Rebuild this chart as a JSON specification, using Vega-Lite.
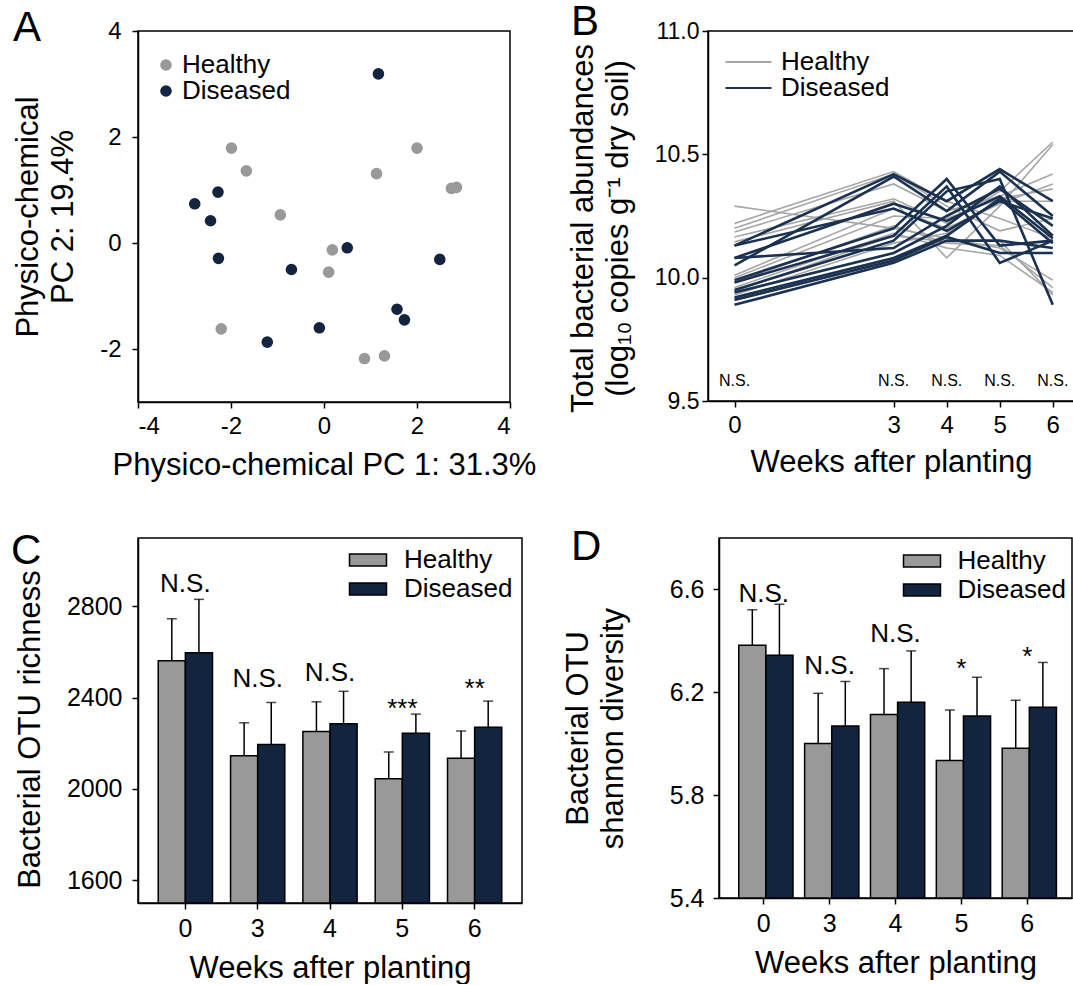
{
  "$schema": "https://vega.github.io/schema/vega-lite/v6.json",
  "padding": {"left": 10, "top": 0, "right": 0, "bottom": 0},
  "background": "white",
  "config": {
    "font": "Liberation Sans",
    "view": {"stroke": "black", "strokeWidth": 1.5},
    "axis": {"grid": false, "domainColor": "black", "domainWidth": 1.5, "tickColor": "black", "tickWidth": 1.5, "tickSize": 6, "labelColor": "black", "titleColor": "black", "labelFont": "Liberation Sans", "titleFont": "Liberation Sans", "labelFontSize": 24, "titleFontSize": 31, "titleFontWeight": "normal", "labelPadding": 6},
    "legend": {"labelFont": "Liberation Sans", "labelFontSize": 26, "labelColor": "black", "title": null, "orient": "none", "padding": 0},
    "title": {"anchor": "start", "frame": "group", "font": "Liberation Sans", "fontSize": 42, "fontWeight": "normal", "color": "black", "baseline": "alphabetic", "offset": 0}
  },
  "resolve": {"scale": {"color": "independent"}, "legend": {"color": "independent"}},
  "spacing": 44,
  "vconcat": [
    {
      "bounds": "flush",
      "spacing": 198,
      "resolve": {"scale": {"color": "independent"}, "legend": {"color": "independent"}},
      "hconcat": [
        {
          "width": 372, "height": 371,
          "title": {"text": "A", "dx": -125, "dy": 35},
          "data": {"values": [
            {"group": "Healthy", "pc1": -1.99, "pc2": 1.79},
            {"group": "Healthy", "pc1": -1.67, "pc2": 1.36},
            {"group": "Healthy", "pc1": 1.13, "pc2": 1.31},
            {"group": "Healthy", "pc1": 2.0, "pc2": 1.79},
            {"group": "Healthy", "pc1": 2.74, "pc2": 1.03},
            {"group": "Healthy", "pc1": 2.85, "pc2": 1.05},
            {"group": "Healthy", "pc1": -0.94, "pc2": 0.53},
            {"group": "Healthy", "pc1": 0.18, "pc2": -0.13},
            {"group": "Healthy", "pc1": 0.10, "pc2": -0.55},
            {"group": "Healthy", "pc1": -2.21, "pc2": -1.62},
            {"group": "Healthy", "pc1": 0.87, "pc2": -2.18},
            {"group": "Healthy", "pc1": 1.30, "pc2": -2.13},
            {"group": "Diseased", "pc1": 1.17, "pc2": 3.19},
            {"group": "Diseased", "pc1": -2.28, "pc2": 0.96},
            {"group": "Diseased", "pc1": -2.78, "pc2": 0.74},
            {"group": "Diseased", "pc1": -2.44, "pc2": 0.42},
            {"group": "Diseased", "pc1": -2.27, "pc2": -0.29},
            {"group": "Diseased", "pc1": -0.70, "pc2": -0.50},
            {"group": "Diseased", "pc1": 0.50, "pc2": -0.09},
            {"group": "Diseased", "pc1": 2.49, "pc2": -0.31},
            {"group": "Diseased", "pc1": 1.57, "pc2": -1.25},
            {"group": "Diseased", "pc1": 1.73, "pc2": -1.45},
            {"group": "Diseased", "pc1": -0.10, "pc2": -1.60},
            {"group": "Diseased", "pc1": -1.22, "pc2": -1.87}
          ]},
          "mark": {"type": "circle", "size": 135, "opacity": 1},
          "encoding": {
            "x": {"field": "pc1", "type": "quantitative", "scale": {"domain": [-4, 4], "nice": false, "zero": false}, "axis": {"values": [-4, -2, 0, 2, 4], "labelExpr": "datum.value < 0 ? '-' + abs(datum.value) : '' + datum.value", "title": "Physico-chemical PC 1: 31.3%", "titlePadding": 12}},
            "y": {"field": "pc2", "type": "quantitative", "scale": {"domain": [-3, 4], "nice": false, "zero": false}, "axis": {"values": [-2, 0, 2, 4], "labelExpr": "datum.value < 0 ? '-' + abs(datum.value) : '' + datum.value", "labelPadding": 11, "title": ["Physico-chemical", "PC 2: 19.4%"], "titleLineHeight": 35, "titlePadding": 20}},
            "color": {"field": "group", "type": "nominal", "scale": {"domain": ["Healthy", "Diseased"], "range": ["#999999", "#12243f"]},
              "legend": {"legendX": 15, "legendY": 21, "symbolType": "circle", "symbolSize": 135, "symbolOpacity": 1, "rowPadding": 0, "labelOffset": 3}}
          }
        },
        {
          "width": 366, "height": 370,
          "title": {"text": "B", "dx": -137, "dy": 28},
          "layer": [
            {
              "data": {"name": "lines"},
              "transform": [{"filter": "datum.g === 'Healthy'"}],
              "mark": {"type": "line", "strokeWidth": 1.6},
              "encoding": {
                "x": {"field": "w", "type": "quantitative", "scale": {"domain": [-0.5, 6.4], "nice": false, "zero": false}, "axis": {"values": [0, 3, 4, 5, 6], "format": "d", "title": "Weeks after planting", "titlePadding": 10}},
                "y": {"field": "v", "type": "quantitative", "scale": {"domain": [9.5, 11.0], "nice": false, "zero": false}, "axis": {"values": [9.5, 10.0, 10.5, 11.0], "format": ".1f", "labelFontSize": 23, "labelPadding": 3, "title": ["Total bacterial abundances", "(log₁₀ copies g⁻¹ dry soil)"], "titleLineHeight": 35, "titlePadding": 20, "titleY": 197}},
                "color": {"field": "g", "type": "nominal", "scale": {"domain": ["Healthy", "Diseased"], "range": ["#a6a6a6", "#1b3150"]},
                  "legend": {"legendX": 27.5, "legendY": 18, "symbolType": "M-2,0H2", "symbolSize": 529, "symbolStrokeWidth": 2, "rowPadding": 0, "labelOffset": 19.5}},
                "detail": {"field": "id"}
              }
            },
            {
              "data": {"name": "lines"},
              "transform": [{"filter": "datum.g === 'Diseased'"}],
              "mark": {"type": "line", "strokeWidth": 2.6},
              "encoding": {
                "x": {"field": "w", "type": "quantitative"},
                "y": {"field": "v", "type": "quantitative"},
                "color": {"field": "g", "type": "nominal"},
                "detail": {"field": "id"}
              }
            },
            {
              "data": {"values": [{"w": 0, "label": "N.S."}, {"w": 3, "label": "N.S."}, {"w": 4, "label": "N.S."}, {"w": 5, "label": "N.S."}, {"w": 6, "label": "N.S."}]},
              "mark": {"type": "text", "fontSize": 16, "baseline": "alphabetic", "align": "center", "color": "black"},
              "encoding": {
                "x": {"field": "w", "type": "quantitative"},
                "y": {"datum": 9.56},
                "text": {"field": "label"}
              }
            }
          ]
        }
      ]
    },
    {
      "bounds": "flush",
      "spacing": 197,
      "resolve": {"scale": {"color": "independent"}, "legend": {"color": "independent"}},
      "hconcat": [
        {
          "width": 384, "height": 365,
          "title": {"text": "C", "dx": -127, "dy": 39},
          "layer": [
            {
              "data": {"name": "richness"},
              "mark": {"type": "bar", "stroke": "black", "strokeWidth": 1.5},
              "encoding": {
                "x": {"field": "week", "type": "ordinal", "sort": ["0", "3", "4", "5", "6"], "scale": {"paddingInner": 0.25, "paddingOuter": 0.28}, "axis": {"labelAngle": 0, "title": "Weeks after planting", "titlePadding": 12, "labelPadding": 7, "labelFontSize": 25}},
                "xOffset": {"field": "group", "type": "nominal", "sort": ["Healthy", "Diseased"], "scale": {"paddingInner": 0, "paddingOuter": 0}},
                "y": {"field": "mean", "type": "quantitative", "scale": {"domain": [1500, 3100], "nice": false, "zero": false}, "axis": {"values": [1600, 2000, 2400, 2800], "format": "d", "labelFontSize": 25, "labelPadding": 10, "title": "Bacterial OTU richness", "titlePadding": 20, "titleY": 191}},
                "y2": {"datum": 1500},
                "color": {"field": "group", "type": "nominal", "scale": {"domain": ["Healthy", "Diseased"], "range": ["#999999", "#12243f"]},
                  "legend": {"legendX": 217, "legendY": 9, "symbolType": "M-2,-0.66H2V0.66H-2Z", "symbolSize": 342, "symbolStrokeColor": "black", "symbolStrokeWidth": 1.5, "symbolOpacity": 1, "rowPadding": 3, "labelOffset": 23}}
              }
            },
            {
              "data": {"name": "richness"},
              "mark": {"type": "rule", "color": "black", "strokeWidth": 1.5},
              "encoding": {
                "x": {"field": "week", "type": "ordinal", "sort": ["0", "3", "4", "5", "6"]},
                "xOffset": {"field": "group", "type": "nominal", "sort": ["Healthy", "Diseased"]},
                "y": {"field": "mean", "type": "quantitative"},
                "y2": {"field": "upper"}
              }
            },
            {
              "data": {"name": "richness"},
              "mark": {"type": "tick", "color": "black", "thickness": 1.5, "size": 10, "orient": "horizontal"},
              "encoding": {
                "x": {"field": "week", "type": "ordinal", "sort": ["0", "3", "4", "5", "6"]},
                "xOffset": {"field": "group", "type": "nominal", "sort": ["Healthy", "Diseased"]},
                "y": {"field": "upper", "type": "quantitative"}
              }
            },
            {
              "data": {"values": [
                {"week": "0", "label": "N.S.", "at": 2863},
                {"week": "3", "label": "N.S.", "at": 2445},
                {"week": "4", "label": "N.S.", "at": 2471},
                {"week": "5", "label": "***", "at": 2317},
                {"week": "6", "label": "**", "at": 2404}
              ]},
              "mark": {"type": "text", "fontSize": 26, "baseline": "alphabetic", "align": "center", "color": "black"},
              "encoding": {
                "x": {"field": "week", "type": "ordinal", "sort": ["0", "3", "4", "5", "6"]},
                "y": {"field": "at", "type": "quantitative"},
                "text": {"field": "label"}
              }
            }
          ]
        },
        {
          "width": 353, "height": 360,
          "title": {"text": "D", "dx": -148, "dy": 35},
          "layer": [
            {
              "data": {"name": "shannon"},
              "mark": {"type": "bar", "stroke": "black", "strokeWidth": 1.5},
              "encoding": {
                "x": {"field": "week", "type": "ordinal", "sort": ["0", "3", "4", "5", "6"], "scale": {"paddingInner": 0.24, "paddingOuter": 0.3}, "axis": {"labelAngle": 0, "title": "Weeks after planting", "titlePadding": 12, "labelPadding": 7, "labelFontSize": 25}},
                "xOffset": {"field": "group", "type": "nominal", "sort": ["Healthy", "Diseased"], "scale": {"paddingInner": 0, "paddingOuter": 0}},
                "y": {"field": "mean", "type": "quantitative", "scale": {"domain": [5.4, 6.8], "nice": false, "zero": false}, "axis": {"values": [5.4, 5.8, 6.2, 6.6], "format": ".1f", "labelFontSize": 25, "labelPadding": 9, "title": ["Bacterial OTU", "shannon diversity"], "titleLineHeight": 35, "titlePadding": 40, "titleY": 190}},
                "y2": {"datum": 5.4},
                "color": {"field": "group", "type": "nominal", "scale": {"domain": ["Healthy", "Diseased"], "range": ["#999999", "#12243f"]},
                  "legend": {"legendX": 190, "legendY": 10, "symbolType": "M-2,-0.66H2V0.66H-2Z", "symbolSize": 342, "symbolStrokeColor": "black", "symbolStrokeWidth": 1.5, "symbolOpacity": 1, "rowPadding": 3, "labelOffset": 22.5}}
              }
            },
            {
              "data": {"name": "shannon"},
              "mark": {"type": "rule", "color": "black", "strokeWidth": 1.5},
              "encoding": {
                "x": {"field": "week", "type": "ordinal", "sort": ["0", "3", "4", "5", "6"]},
                "xOffset": {"field": "group", "type": "nominal", "sort": ["Healthy", "Diseased"]},
                "y": {"field": "mean", "type": "quantitative"},
                "y2": {"field": "upper"}
              }
            },
            {
              "data": {"name": "shannon"},
              "mark": {"type": "tick", "color": "black", "thickness": 1.5, "size": 10, "orient": "horizontal"},
              "encoding": {
                "x": {"field": "week", "type": "ordinal", "sort": ["0", "3", "4", "5", "6"]},
                "xOffset": {"field": "group", "type": "nominal", "sort": ["Healthy", "Diseased"]},
                "y": {"field": "upper", "type": "quantitative"}
              }
            },
            {
              "data": {"values": [
                {"week": "0", "label": "N.S.", "at": 6.553},
                {"week": "3", "label": "N.S.", "at": 6.272},
                {"week": "4", "label": "N.S.", "at": 6.395},
                {"week": "5", "label": "*", "at": 6.258},
                {"week": "6", "label": "*", "at": 6.307}
              ]},
              "mark": {"type": "text", "fontSize": 26, "baseline": "alphabetic", "align": "center", "color": "black"},
              "encoding": {
                "x": {"field": "week", "type": "ordinal", "sort": ["0", "3", "4", "5", "6"]},
                "y": {"field": "at", "type": "quantitative"},
                "text": {"field": "label"}
              }
            }
          ]
        }
      ]
    }
  ],
  "datasets": {
    "lines": [
      {"id": "H1", "g": "Healthy", "w": 0, "v": 10.29}, {"id": "H1", "g": "Healthy", "w": 3, "v": 10.20}, {"id": "H1", "g": "Healthy", "w": 4, "v": 10.16}, {"id": "H1", "g": "Healthy", "w": 5, "v": 10.12}, {"id": "H1", "g": "Healthy", "w": 6, "v": 9.99},
      {"id": "H2", "g": "Healthy", "w": 0, "v": 10.22}, {"id": "H2", "g": "Healthy", "w": 3, "v": 10.43}, {"id": "H2", "g": "Healthy", "w": 4, "v": 10.31}, {"id": "H2", "g": "Healthy", "w": 5, "v": 10.24}, {"id": "H2", "g": "Healthy", "w": 6, "v": 10.16},
      {"id": "H3", "g": "Healthy", "w": 0, "v": 10.20}, {"id": "H3", "g": "Healthy", "w": 3, "v": 10.42}, {"id": "H3", "g": "Healthy", "w": 4, "v": 10.29}, {"id": "H3", "g": "Healthy", "w": 5, "v": 10.19}, {"id": "H3", "g": "Healthy", "w": 6, "v": 10.24},
      {"id": "H4", "g": "Healthy", "w": 0, "v": 10.185}, {"id": "H4", "g": "Healthy", "w": 3, "v": 10.38}, {"id": "H4", "g": "Healthy", "w": 4, "v": 10.27}, {"id": "H4", "g": "Healthy", "w": 5, "v": 10.33}, {"id": "H4", "g": "Healthy", "w": 6, "v": 10.42},
      {"id": "H5", "g": "Healthy", "w": 0, "v": 10.165}, {"id": "H5", "g": "Healthy", "w": 3, "v": 10.32}, {"id": "H5", "g": "Healthy", "w": 4, "v": 10.22}, {"id": "H5", "g": "Healthy", "w": 5, "v": 10.35}, {"id": "H5", "g": "Healthy", "w": 6, "v": 10.55},
      {"id": "H6", "g": "Healthy", "w": 0, "v": 10.145}, {"id": "H6", "g": "Healthy", "w": 3, "v": 10.31}, {"id": "H6", "g": "Healthy", "w": 4, "v": 10.08}, {"id": "H6", "g": "Healthy", "w": 5, "v": 10.29}, {"id": "H6", "g": "Healthy", "w": 6, "v": 10.54},
      {"id": "H7", "g": "Healthy", "w": 0, "v": 10.01}, {"id": "H7", "g": "Healthy", "w": 3, "v": 10.28}, {"id": "H7", "g": "Healthy", "w": 4, "v": 10.20}, {"id": "H7", "g": "Healthy", "w": 5, "v": 10.30}, {"id": "H7", "g": "Healthy", "w": 6, "v": 10.38},
      {"id": "H8", "g": "Healthy", "w": 0, "v": 10.00}, {"id": "H8", "g": "Healthy", "w": 3, "v": 10.25}, {"id": "H8", "g": "Healthy", "w": 4, "v": 10.24}, {"id": "H8", "g": "Healthy", "w": 5, "v": 10.32}, {"id": "H8", "g": "Healthy", "w": 6, "v": 10.36},
      {"id": "H9", "g": "Healthy", "w": 0, "v": 9.98}, {"id": "H9", "g": "Healthy", "w": 3, "v": 10.21}, {"id": "H9", "g": "Healthy", "w": 4, "v": 10.14}, {"id": "H9", "g": "Healthy", "w": 5, "v": 10.13}, {"id": "H9", "g": "Healthy", "w": 6, "v": 9.96},
      {"id": "H10", "g": "Healthy", "w": 0, "v": 9.96}, {"id": "H10", "g": "Healthy", "w": 3, "v": 10.18}, {"id": "H10", "g": "Healthy", "w": 4, "v": 10.12}, {"id": "H10", "g": "Healthy", "w": 5, "v": 10.09}, {"id": "H10", "g": "Healthy", "w": 6, "v": 9.94},
      {"id": "H11", "g": "Healthy", "w": 0, "v": 9.945}, {"id": "H11", "g": "Healthy", "w": 3, "v": 10.17}, {"id": "H11", "g": "Healthy", "w": 4, "v": 10.145}, {"id": "H11", "g": "Healthy", "w": 5, "v": 10.15}, {"id": "H11", "g": "Healthy", "w": 6, "v": 9.93},
      {"id": "H12", "g": "Healthy", "w": 0, "v": 9.93}, {"id": "H12", "g": "Healthy", "w": 3, "v": 10.14}, {"id": "H12", "g": "Healthy", "w": 4, "v": 10.18}, {"id": "H12", "g": "Healthy", "w": 5, "v": 10.31}, {"id": "H12", "g": "Healthy", "w": 6, "v": 10.31},
      {"id": "D1", "g": "Diseased", "w": 0, "v": 10.13}, {"id": "D1", "g": "Diseased", "w": 3, "v": 10.42}, {"id": "D1", "g": "Diseased", "w": 4, "v": 10.31}, {"id": "D1", "g": "Diseased", "w": 5, "v": 10.44}, {"id": "D1", "g": "Diseased", "w": 6, "v": 10.31},
      {"id": "D2", "g": "Diseased", "w": 0, "v": 10.05}, {"id": "D2", "g": "Diseased", "w": 3, "v": 10.41}, {"id": "D2", "g": "Diseased", "w": 4, "v": 10.27}, {"id": "D2", "g": "Diseased", "w": 5, "v": 10.43}, {"id": "D2", "g": "Diseased", "w": 6, "v": 10.25},
      {"id": "D3", "g": "Diseased", "w": 0, "v": 10.08}, {"id": "D3", "g": "Diseased", "w": 3, "v": 10.30}, {"id": "D3", "g": "Diseased", "w": 4, "v": 10.23}, {"id": "D3", "g": "Diseased", "w": 5, "v": 10.33}, {"id": "D3", "g": "Diseased", "w": 6, "v": 10.16},
      {"id": "D4", "g": "Diseased", "w": 0, "v": 10.13}, {"id": "D4", "g": "Diseased", "w": 3, "v": 10.28}, {"id": "D4", "g": "Diseased", "w": 4, "v": 10.19}, {"id": "D4", "g": "Diseased", "w": 5, "v": 10.31}, {"id": "D4", "g": "Diseased", "w": 6, "v": 10.24},
      {"id": "D5", "g": "Diseased", "w": 0, "v": 9.99}, {"id": "D5", "g": "Diseased", "w": 3, "v": 10.20}, {"id": "D5", "g": "Diseased", "w": 4, "v": 10.40}, {"id": "D5", "g": "Diseased", "w": 5, "v": 10.13}, {"id": "D5", "g": "Diseased", "w": 6, "v": 10.15},
      {"id": "D6", "g": "Diseased", "w": 0, "v": 9.98}, {"id": "D6", "g": "Diseased", "w": 3, "v": 10.17}, {"id": "D6", "g": "Diseased", "w": 4, "v": 10.37}, {"id": "D6", "g": "Diseased", "w": 5, "v": 10.06}, {"id": "D6", "g": "Diseased", "w": 6, "v": 10.15},
      {"id": "D7", "g": "Diseased", "w": 0, "v": 9.95}, {"id": "D7", "g": "Diseased", "w": 3, "v": 10.15}, {"id": "D7", "g": "Diseased", "w": 4, "v": 10.35}, {"id": "D7", "g": "Diseased", "w": 5, "v": 10.40}, {"id": "D7", "g": "Diseased", "w": 6, "v": 9.89},
      {"id": "D8", "g": "Diseased", "w": 0, "v": 10.08}, {"id": "D8", "g": "Diseased", "w": 3, "v": 10.12}, {"id": "D8", "g": "Diseased", "w": 4, "v": 10.25}, {"id": "D8", "g": "Diseased", "w": 5, "v": 10.36}, {"id": "D8", "g": "Diseased", "w": 6, "v": 10.21},
      {"id": "D9", "g": "Diseased", "w": 0, "v": 9.94}, {"id": "D9", "g": "Diseased", "w": 3, "v": 10.10}, {"id": "D9", "g": "Diseased", "w": 4, "v": 10.21}, {"id": "D9", "g": "Diseased", "w": 5, "v": 10.37}, {"id": "D9", "g": "Diseased", "w": 6, "v": 10.17},
      {"id": "D10", "g": "Diseased", "w": 0, "v": 9.92}, {"id": "D10", "g": "Diseased", "w": 3, "v": 10.08}, {"id": "D10", "g": "Diseased", "w": 4, "v": 10.17}, {"id": "D10", "g": "Diseased", "w": 5, "v": 10.32}, {"id": "D10", "g": "Diseased", "w": 6, "v": 10.14},
      {"id": "D11", "g": "Diseased", "w": 0, "v": 9.91}, {"id": "D11", "g": "Diseased", "w": 3, "v": 10.07}, {"id": "D11", "g": "Diseased", "w": 4, "v": 10.165}, {"id": "D11", "g": "Diseased", "w": 5, "v": 10.10}, {"id": "D11", "g": "Diseased", "w": 6, "v": 10.10},
      {"id": "D12", "g": "Diseased", "w": 0, "v": 9.89}, {"id": "D12", "g": "Diseased", "w": 3, "v": 10.06}, {"id": "D12", "g": "Diseased", "w": 4, "v": 10.15}, {"id": "D12", "g": "Diseased", "w": 5, "v": 10.15}, {"id": "D12", "g": "Diseased", "w": 6, "v": 10.12}
    ],
    "richness": [
      {"week": "0", "group": "Healthy", "mean": 2562, "upper": 2746},
      {"week": "0", "group": "Diseased", "mean": 2597, "upper": 2831},
      {"week": "3", "group": "Healthy", "mean": 2146, "upper": 2290},
      {"week": "3", "group": "Diseased", "mean": 2195, "upper": 2379},
      {"week": "4", "group": "Healthy", "mean": 2252, "upper": 2382},
      {"week": "4", "group": "Diseased", "mean": 2286, "upper": 2428},
      {"week": "5", "group": "Healthy", "mean": 2045, "upper": 2162},
      {"week": "5", "group": "Diseased", "mean": 2244, "upper": 2328},
      {"week": "6", "group": "Healthy", "mean": 2134, "upper": 2254},
      {"week": "6", "group": "Diseased", "mean": 2270, "upper": 2385}
    ],
    "shannon": [
      {"week": "0", "group": "Healthy", "mean": 6.383, "upper": 6.521},
      {"week": "0", "group": "Diseased", "mean": 6.344, "upper": 6.542},
      {"week": "3", "group": "Healthy", "mean": 6.001, "upper": 6.196},
      {"week": "3", "group": "Diseased", "mean": 6.069, "upper": 6.242},
      {"week": "4", "group": "Healthy", "mean": 6.114, "upper": 6.292},
      {"week": "4", "group": "Diseased", "mean": 6.161, "upper": 6.361},
      {"week": "5", "group": "Healthy", "mean": 5.935, "upper": 6.131},
      {"week": "5", "group": "Diseased", "mean": 6.108, "upper": 6.258},
      {"week": "6", "group": "Healthy", "mean": 5.982, "upper": 6.169},
      {"week": "6", "group": "Diseased", "mean": 6.142, "upper": 6.316}
    ]
  }
}
